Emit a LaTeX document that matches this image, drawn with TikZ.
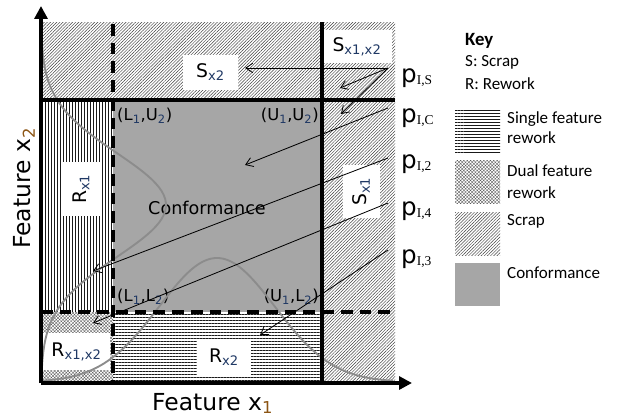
\documentclass[tikz,border=0pt]{standalone}
\usepackage{fontspec}
\setmainfont{DejaVu Sans}
\newfontfamily\keyfont{Carlito}
\newfontfamily\subserif{Liberation Serif}
\usetikzlibrary{patterns.meta,arrows.meta}
\definecolor{conf}{RGB}{166,166,166}
\definecolor{subnavy}{RGB}{31,56,100}
\definecolor{subbrown}{RGB}{140,85,20}
\definecolor{curvegray}{RGB}{140,140,140}
\newcommand{\mysub}[2][black]{\textsubscript{\color{#1}#2}}
\newcommand{\psub}[1]{p\raisebox{-2.5pt}{\subserif\fontsize{11.5}{12}\selectfont #1}}
\begin{document}
\begin{tikzpicture}[x=0.03cm,y=-0.03cm,
  scrap/.style={pattern={Lines[angle=45,distance=1.9pt,line width=0.4pt]},pattern color=black!75},
  hrew/.style={pattern={Lines[angle=0,distance=2.562pt,line width=0.5pt]},pattern color=black!90},
  vrew/.style={pattern={Lines[angle=90,distance=2.562pt,line width=0.5pt]},pattern color=black!90},
  dual/.style={pattern={Hatch[angle=45,distance=2pt,line width=0.3pt]},pattern color=black!65},
  confo/.style={fill=conf},
  lbl/.style={fill=white,inner sep=0pt,font=\fontsize{16}{18}\selectfont},
  corner/.style={inner sep=0pt,font=\fontsize{14}{16}\selectfont},
  plab/.style={anchor=base west,inner sep=0pt,font=\fontsize{21}{24}\selectfont},
  keytxt/.style={anchor=base west,inner sep=0pt,font=\keyfont\fontsize{14.5}{17}\selectfont},
  bound/.style={line width=2.6pt},
  dashb/.style={line width=2.6pt,dash pattern=on 10pt off 6pt},
  ptr/.style={-{Straight Barb[length=6pt,width=8pt]},line width=0.7pt},
  axisline/.style={line width=2.8pt,-{Triangle[length=11pt,width=11pt]}},
  bell/.style={draw=curvegray,line width=1.6pt}]
\useasboundingbox (0,0) rectangle (617,419);
% regions
\fill[scrap] (41,22) rectangle (395,100);
\fill[scrap] (322,100) rectangle (395,382);
\fill[vrew] (41,100) rectangle (113,312);
\fill[dual] (41,312) rectangle (113,382);
\fill[hrew] (113,312) rectangle (322,382);
\fill[confo] (113,100) rectangle (322,312);
% region labels
\node[lbl,minimum width=1.65cm,minimum height=1.05cm] (Sx2) at (210.5,72.5) {S\mysub[subnavy]{x2}};
\node[lbl,minimum width=2.1cm,minimum height=0.99cm] (Sx12) at (357,46.5) {S\mysub[subnavy]{x1,x2}};
\node[lbl,rotate=90,minimum width=1.62cm,minimum height=1.14cm] (Rx1) at (81,189) {R\mysub[subnavy]{x1}};
\node[lbl,rotate=90,minimum width=1.59cm,minimum height=1.11cm] (Sx1) at (361.5,191.5) {S\mysub[subnavy]{x1}};
\node[lbl,minimum width=2.01cm,minimum height=1.11cm] (Rx12) at (76.5,351.5) {R\mysub[subnavy]{x1,x2}};
\node[lbl,minimum width=1.62cm,minimum height=1.11cm] (Rx2) at (224,357.5) {R\mysub[subnavy]{x2}};
\node[inner sep=0pt,font=\fontsize{15}{17}\selectfont] (conft) at (207,208) {Conformance};
% corner labels
\node[corner,anchor=west] (LU) at (117,116) {(L\mysub[subnavy]{1},U\mysub[subnavy]{2})};
\node[corner,anchor=east] (UU) at (319,116) {(U\mysub[subnavy]{1},U\mysub[subnavy]{2})};
\node[corner,anchor=west] (LL) at (117,297) {(L\mysub[subnavy]{1},L\mysub[subnavy]{2})};
\node[corner,anchor=east] (UL) at (319,297) {(U\mysub[subnavy]{1},L\mysub[subnavy]{2})};
% bell curves
\draw[bell] plot[domain=28:382,samples=90] ({41+125*exp(-((\x-205)/52)*((\x-205)/52)/2)},\x);
\draw[bell] plot[domain=41:393,samples=90] (\x,{382-124*exp(-((\x-217)/58)*((\x-217)/58)/2)});
% boundaries
\draw[dashb] (113,24) -- (113,382);
\draw[dashb] (41,312) -- (395,312);
\draw[bound] (41,100) -- (395,100);
\draw[bound] (322,22) -- (322,382);
% axes
\coordinate (O) at (41,383);
\coordinate (xend) at (412,383);
\coordinate (yend) at (41,6);
\draw[axisline] (O) -- (xend);
\draw[axisline] (O) -- (yend);
\node[anchor=base west,inner sep=0pt,font=\fontsize{20}{22}\selectfont] (xlab) at (152,410) {Feature x\mysub[subbrown]{1}};
\node[anchor=base west,inner sep=0pt,rotate=90,font=\fontsize{20}{22}\selectfont] (ylab) at (31,249) {Feature x\mysub[subbrown]{2}};
% p labels
\node[plab] (pS) at (401,82) {\psub{I,S}};
\node[plab] (pC) at (401,122) {\psub{I,C}};
\node[plab] (p2) at (401,168) {\psub{I,2}};
\node[plab] (p4) at (401,215) {\psub{I,4}};
\node[plab] (p3) at (401,263) {\psub{I,3}};
\coordinate (sS) at (388,68);
\coordinate (sC) at (388,108);
\coordinate (s2) at (388,158);
\coordinate (s4) at (388,203);
\coordinate (s3) at (388,250);
\coordinate (eS1) at (245,68);
\coordinate (eS2) at (340,88);
\coordinate (eS3) at (341,114);
\coordinate (eC) at (245,165);
\coordinate (e2) at (93,271);
\coordinate (e4) at (93,323);
\coordinate (e3) at (260,335);
\draw[ptr] (sS) -- (eS1);
\draw[ptr] (sS) -- (eS2);
\draw[ptr] (sS) -- (eS3);
\draw[ptr] (sC) -- (eC);
\draw[ptr] (s2) -- (e2);
\draw[ptr] (s4) -- (e4);
\draw[ptr] (s3) -- (e3);
% key
\node[keytxt,font=\keyfont\bfseries\fontsize{16}{18}\selectfont] (key) at (465,45) {Key};
\node[keytxt] (keyS) at (465,66) {S: Scrap};
\node[keytxt] (keyR) at (465,89) {R: Rework};
\fill[hrew] (455,108) rectangle (500,152);
\fill[dual] (455,160) rectangle (500,203);
\fill[scrap] (455,212) rectangle (500,255);
\fill[confo] (455,263) rectangle (500,306);
\node[keytxt] (k1a) at (507,123) {Single feature};
\node[keytxt] (k1b) at (507,143) {rework};
\node[keytxt] (k2a) at (507,176) {Dual feature};
\node[keytxt] (k2b) at (507,198) {rework};
\node[keytxt] (k3) at (507,225) {Scrap};
\node[keytxt] (k4) at (507,278) {Conformance};
\end{tikzpicture}
\end{document}
